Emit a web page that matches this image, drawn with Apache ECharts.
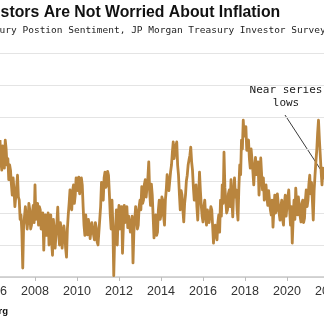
<!DOCTYPE html>
<html>
<head>
<meta charset="utf-8">
<script src="https://cdn.jsdelivr.net/npm/echarts@6/dist/echarts.min.js"></script>
<style>
  html, body { margin: 0; padding: 0; background: #fff; overflow: hidden; width: 324px; height: 325px; }
  /* the plot runs past both window edges */
  #chart { width: 420px; height: 325px; margin-left: -49px; }
</style>
</head>
<body>
<div id="chart"></div>
<script>
// JP Morgan Treasury Investor Survey, net position sentiment (twice-monthly readings)
const y2006 = [1.4, -2.0, -3.3, 0.5, -0.2, -3.0, 1.4, 0.0, -2.5, -1.5, -4.8, -2.5, -3.3, -5.5, -7.2, -4.5]; // from May
const y2007 = [-6.4, -9.0, -8.8, -6.0, -4.1, -7.5, -8.0, -11.0, -10.3, -13.0, -18.6, -12.0, -11.9, -9.0, -8.8, -12.5, -11.1, -8.5, -9.5, -12.5, -11.9, -10.0, -8.8, -11.5];
const y2008 = [-5.6, -11.0, -10.3, -8.5, -11.9, -9.0, -9.5, -12.5, -12.7, -10.0, -15.8, -11.5, -10.3, -13.5, -11.9, -10.0, -15.0, -12.0, -10.3, -14.5, -16.6, -11.0, -12.7, -15.5];
const y2009 = [-13.4, -11.5, -9.1, -13.0, -15.0, -11.5, -12.7, -15.5, -15.8, -12.0, -13.4, -15.5, -16.9, -12.5, -10.3, -8.5, -6.4, -9.0, -9.5, -6.5, -5.6, -8.5, -7.2, -4.5];
const y2010 = [-4.8, -6.5, -4.4, -7.0, -7.2, -4.5, -5.6, -9.0, -11.9, -13.5, -10.3, -12.5, -13.4, -11.0, -11.9, -14.0, -13.9, -11.5, -11.4, -13.5, -14.2, -11.5, -12.3, -14.5];
const y2011 = [-15.0, -13.0, -12.7, -9.0, -5.2, -7.5, -8.0, -4.5, -3.6, -6.0, -5.6, -3.5, -4.1, -7.0, -10.3, -12.5, -8.0, -12.0, -19.8, -14.0, -12.7, -9.5, -15.0, -10.5];
const y2012 = [-8.8, -12.5, -11.9, -9.0, -16.3, -12.0, -8.8, -11.5, -10.8, -9.0, -12.3, -10.5, -10.3, -13.0, -12.7, -10.5, -17.8, -13.0, -11.1, -9.0, -9.8, -12.5, -11.9, -9.0];
const y2013 = [-8.0, -9.5, -5.9, -8.5, -8.0, -5.5, -4.8, -7.5, -7.2, -4.5, -2.0, -6.5, -8.8, -5.5, -7.2, -10.5, -13.9, -11.0, -10.3, -13.5, -13.0, -9.5, -8.0, -11.0];
const y2014 = [-10.3, -7.5, -8.0, -10.5, -11.9, -8.0, -6.4, -4.0, -4.1, -6.5, -6.7, -3.5, -2.5, -0.5, 1.1, -1.5, -1.7, 0.5, 1.1, -2.5, -4.1, -7.0, -9.5, -6.5];
const y2015 = [-7.2, -9.5, -11.4, -8.5, -7.2, -5.0, -4.1, -2.5, -1.7, -1.0, 0.3, -2.0, -3.3, -6.0, -8.0, -6.0, -5.6, -9.0, -11.1, -7.5, -3.6, -6.5, -8.8, -10.5];
const y2016 = [-11.4, -9.0, -8.0, -10.5, -11.9, -9.5, -9.8, -11.5, -11.4, -9.0, -9.5, -12.0, -14.7, -12.5, -11.9, -13.5, -14.2, -11.5, -10.3, -13.0, -8.0, -10.5, -5.6, -8.5];
const y2017 = [-0.5, -6.0, -8.0, -10.0, -9.5, -7.0, -6.4, -9.0, -4.8, -8.0, -10.6, -7.0, -4.5, -7.5, -6.4, -9.5, -11.1, -6.0, -2.5, -4.0, 1.4, 0.0, 4.5, 2.0];
const y2018 = [2.2, 3.5, -0.2, 1.0, 1.4, -1.5, -3.0, 0.0, -1.7, -3.5, -5.6, -3.0, -1.3, -4.0, -4.1, -2.0, -7.2, -4.5, -1.4, -4.0, -6.4, -4.5, -8.0, -6.0];
const y2019 = [-5.6, -7.5, -8.8, -6.5, -6.4, -9.5, -10.3, -8.0, -12.2, -9.5, -7.2, -10.0, -9.5, -7.0, -7.2, -10.0, -11.1, -9.0, -8.0, -11.0, -11.9, -8.5, -7.2, -10.5];
const y2020 = [-10.3, -7.5, -6.4, -9.5, -11.9, -9.0, -14.7, -11.0, -8.0, -11.0, -6.1, -8.5, -10.3, -7.5, -7.2, -10.5, -11.4, -8.5, -8.0, -11.5, -10.8, -8.0, -6.4, -9.0];
const y2021 = [-8.0, -5.5, -4.1, -7.0, -5.2, -8.0, -11.1, -6.5, -4.1, -2.0, -0.2, 2.5, 4.5, 1.5, -0.9, -3.5, -5.6, -3.0, -4.8]; // to October

const years = [2006, 2007, 2008, 2009, 2010, 2011, 2012, 2013, 2014, 2015, 2016, 2017, 2018, 2019, 2020, 2021];
const yearly = [y2006, y2007, y2008, y2009, y2010, y2011, y2012, y2013, y2014, y2015, y2016, y2017, y2018, y2019, y2020, y2021];
const firstMonth = { 2006: 5 };

// Axis range and tick labels (even years)
const yearTicks = [2004, 2006, 2008, 2010, 2012, 2014, 2016, 2018, 2020, 2022, 2024];

const titleText = 'Investors Are Not Worried About Inflation';
const subtitleText = 'Treasury Postion Sentiment, JP Morgan Treasury Investor Survey';
const noteLines = ['Near series', 'lows'];
const sourceText = 'Source: Bloomberg';

// Build [fractional year, value] pairs, two readings per month
const points = [];
years.forEach((yr, i) => {
  const start = firstMonth[yr] || 1;
  yearly[i].forEach((v, k) => {
    points.push([yr + (start - 1) / 12 + k / 24, v]);
  });
});

const chart = echarts.init(document.getElementById('chart'), null, { renderer: 'canvas' });

// horizontal offset of the visible window inside the wider canvas
const ox = 49;

const option = {
  animation: false,
  backgroundColor: '#ffffff',
  grid: { left: 0, right: 0, top: 53, bottom: 48, containLabel: false, outerBoundsMode: 'none' },
  xAxis: {
    type: 'value',
    min: yearTicks[0],
    max: yearTicks[yearTicks.length - 1],
    interval: 2,
    axisLine: { show: true, onZero: false, lineStyle: { color: '#c8c8c8', width: 1.5 } },
    axisTick: { show: true, length: 4, lineStyle: { color: '#bdbdbd' } },
    axisLabel: {
      color: '#333',
      fontFamily: 'Liberation Sans',
      fontSize: 12.5,
      margin: 8,
      formatter: v => String(v)
    },
    splitLine: { show: false }
  },
  yAxis: {
    type: 'value',
    min: -20,
    max: 15,
    interval: 5,
    axisLine: { show: false },
    axisTick: { show: false },
    axisLabel: { show: false },
    splitLine: { show: true, lineStyle: { color: '#e4e4e4', width: 1 } }
  },
  series: [{
    type: 'line',
    data: points,
    showSymbol: false,
    lineStyle: { color: '#b9853e', width: 2.8, join: 'round' },
    clip: true
  }],
  graphic: [
    {
      type: 'text', x: ox - 31, y: 5,
      style: { text: titleText, font: 'bold 15.8px "Liberation Sans"', fill: '#111' }
    },
    {
      type: 'text', x: ox - 29, y: 26,
      style: { text: subtitleText, font: '9.5px "DejaVu Sans Mono"', fill: '#222' }
    },
    {
      type: 'text', x: ox + 286, y: 85,
      style: { text: noteLines[0], font: '11px "DejaVu Sans Mono"', fill: '#222', align: 'center' }
    },
    {
      type: 'text', x: ox + 286, y: 98,
      style: { text: noteLines[1], font: '11px "DejaVu Sans Mono"', fill: '#222', align: 'center' }
    },
    {
      type: 'line',
      shape: { x1: ox + 285, y1: 115, x2: ox + 330, y2: 184 },
      style: { stroke: '#3a3a3a', lineWidth: 1 }
    },
    {
      type: 'text', x: ox + 8, y: 306,
      style: { text: sourceText, font: 'bold 9.5px "Liberation Sans"', fill: '#111', align: 'right' }
    }
  ]
};

chart.setOption(option);
</script>
</body>
</html>
